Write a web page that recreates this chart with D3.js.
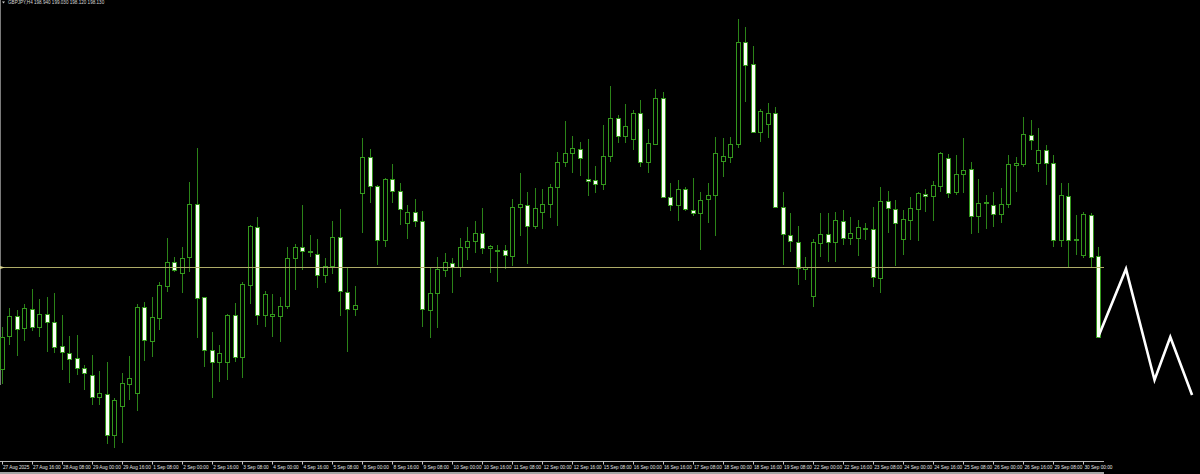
<!DOCTYPE html>
<html><head><meta charset="utf-8">
<script src="https://cdn.jsdelivr.net/npm/d3@7"></script>
<style>html,body{margin:0;padding:0;background:#000;overflow:hidden}</style>
</head><body><svg id="c" width="1200" height="474"></svg>
<script>
const symbol = "GBPJPY,H4";
const opens = [197.81,198.14,198.34,198.22,198.41,198.23,198.36,198.28,198.04,197.97,
197.92,197.82,197.75,197.53,197.56,197.15,197.44,197.66,197.57,198.43,
198.09,198.32,198.64,198.88,198.77,198.93,199.46,198.53,198.00,197.88,
197.88,198.35,197.93,198.65,199.23,198.35,198.34,198.34,198.44,198.92,
199.03,198.99,198.96,198.75,198.84,199.13,198.58,198.41,199.57,199.93,
199.64,199.10,199.71,199.59,199.27,199.38,199.29,198.40,198.57,198.80,
198.87,198.83,199.03,199.09,199.17,199.02,199.00,199.00,198.94,199.43,
199.45,199.24,199.38,199.46,199.63,199.88,199.97,200.01,199.71,199.70,
199.66,199.94,200.32,200.14,200.11,200.37,199.88,200.06,200.52,199.53,
199.45,199.61,199.40,199.37,199.51,199.55,199.89,199.93,200.06,201.08,
200.86,200.18,200.26,200.37,199.43,199.15,199.08,198.81,198.54,199.07,
199.16,199.08,199.29,199.12,199.12,199.22,199.21,198.72,199.49,199.41,
199.11,199.30,199.41,199.56,199.54,199.64,199.92,199.58,199.76,199.81,
199.34,199.47,199.45,199.36,199.46,199.85,199.86,200.15,199.87,200.00,
199.87,199.10,199.54,199.10,198.95,199.35,198.94];
const highs = [198.23,198.42,198.40,198.46,198.61,198.51,198.53,198.57,198.35,198.14,
198.15,197.85,197.95,197.79,197.88,197.52,197.77,197.94,198.46,198.48,
198.53,198.68,199.12,198.93,199.03,199.68,200.02,198.53,198.18,198.05,
198.36,198.47,198.68,199.25,199.33,198.59,198.56,198.53,199.03,199.06,
199.45,199.15,199.11,198.92,199.29,199.41,198.82,198.64,200.12,200.01,
199.65,199.72,199.86,199.67,199.45,199.51,199.39,198.82,198.93,198.97,
198.92,199.12,199.23,199.29,199.42,199.05,199.05,199.05,199.51,199.77,
199.58,199.62,199.61,199.66,199.98,200.29,200.14,200.08,200.11,199.84,
200.25,200.64,200.35,200.46,200.40,200.50,200.21,200.61,200.58,199.67,
199.70,199.63,199.72,199.58,199.67,200.13,200.12,200.13,201.31,201.23,
201.04,200.41,200.47,200.43,199.58,199.37,199.24,198.93,199.11,199.37,
199.37,199.38,199.40,199.33,199.30,199.27,199.43,199.63,199.59,199.50,
199.40,199.53,199.58,199.61,199.69,199.98,199.96,199.95,200.12,199.88,
199.71,199.55,199.58,199.62,199.95,199.93,200.33,200.30,200.22,200.05,
199.95,199.67,199.67,199.35,199.38,199.37,199.03];
const lows = [197.66,198.05,197.94,198.09,198.19,198.13,197.98,197.97,197.80,197.67,
197.75,197.60,197.45,197.45,197.06,197.02,197.07,197.50,197.39,197.89,
197.93,198.20,198.58,198.78,198.57,198.78,198.12,197.83,197.52,197.68,
197.70,197.88,197.72,198.46,198.25,198.23,198.13,198.08,198.41,198.60,
198.80,198.93,198.62,198.67,198.76,198.34,197.98,198.34,199.17,199.47,
198.85,199.03,199.47,199.25,199.11,199.23,198.23,198.12,198.22,198.73,
198.57,198.73,198.90,198.97,198.96,198.77,198.68,198.81,198.84,199.14,
198.86,199.21,199.21,199.32,199.24,199.83,199.77,199.74,199.54,199.57,
199.60,199.88,200.07,200.07,200.00,199.83,199.77,200.05,199.52,199.39,
199.29,199.39,199.34,199.00,199.27,199.14,199.73,199.87,200.02,200.48,
200.17,200.08,200.12,199.42,198.85,198.98,198.65,198.70,198.43,198.93,
198.88,198.88,199.05,199.05,198.94,199.10,198.63,198.57,199.17,198.84,
198.95,199.10,199.09,199.38,199.29,199.58,199.52,199.55,199.57,199.16,
199.17,199.21,199.23,199.27,199.42,199.58,199.83,200.00,199.78,199.65,
199.03,199.03,198.82,198.95,198.92,198.83,198.12];
const closes = [198.13,198.34,198.21,198.42,198.23,198.36,198.28,198.03,197.98,197.91,
197.82,197.77,197.53,197.57,197.15,197.50,197.67,197.72,198.43,198.10,
198.33,198.65,198.88,198.80,198.92,199.46,198.52,198.00,197.88,197.97,
198.35,197.93,198.66,199.24,198.35,198.56,198.36,198.44,198.92,199.03,
198.99,198.98,198.75,198.84,199.13,198.59,198.41,198.45,199.93,199.64,
199.10,199.71,199.59,199.41,199.38,199.29,198.41,198.57,198.81,198.88,
198.83,199.03,199.09,199.17,199.02,199.04,198.99,198.95,199.43,199.46,
199.24,199.42,199.46,199.63,199.88,199.97,200.02,199.92,199.69,199.66,
199.94,200.32,200.14,200.24,200.37,199.88,200.07,200.52,199.53,199.45,
199.61,199.41,199.37,199.50,199.55,199.97,199.94,200.06,201.08,200.85,
200.18,200.39,200.37,199.43,199.16,199.09,198.82,198.83,199.08,199.16,
199.08,199.30,199.12,199.17,199.23,199.21,198.73,199.49,199.42,199.27,
199.31,199.42,199.57,199.54,199.65,199.97,199.57,199.76,199.80,199.34,
199.47,199.48,199.36,199.46,199.86,199.87,200.16,200.10,200.00,199.87,
199.10,199.55,199.10,199.11,199.36,198.93,198.13];
const tickLabels = ["27 Aug 2025","27 Aug 16:00","28 Aug 08:00","29 Aug 00:00","29 Aug 16:00",
"1 Sep 08:00","2 Sep 00:00","2 Sep 16:00","3 Sep 08:00","4 Sep 00:00","4 Sep 16:00",
"5 Sep 08:00","8 Sep 00:00","8 Sep 16:00","9 Sep 08:00","10 Sep 00:00","10 Sep 16:00",
"11 Sep 08:00","12 Sep 00:00","12 Sep 16:00","15 Sep 08:00","16 Sep 00:00","16 Sep 16:00",
"17 Sep 08:00","18 Sep 00:00","18 Sep 16:00","19 Sep 08:00","22 Sep 00:00","22 Sep 16:00",
"23 Sep 08:00","24 Sep 00:00","24 Sep 16:00","25 Sep 08:00","26 Sep 00:00","26 Sep 16:00",
"29 Sep 08:00","30 Sep 00:00"];
const barsPerTick = 4;
const bidPrice = 198.83;
const forecastBars = [146, 149.7, 153.5, 155.6, 158.5];
const forecastPrices = [198.13, 198.81, 197.70, 198.13, 197.55];

const n = opens.length;
const svg = d3.select("#c");
const x = d3.scaleLinear().domain([0, n - 1]).range([1.7, 1098.2]);
const y = d3.scaleLinear().domain([201.50, 196.76]).range([0, 474]);
const chartRight = 1104, axisY = 461.5;
const wickGreen = "#2b8318";
const bodyGreen = "#34981d";
const px = v => Math.round(v) + 0.5;

// left border
svg.append("line").attr("x1",0.5).attr("x2",0.5).attr("y1",0).attr("y2",385)
  .attr("stroke","#7a7a7a").attr("stroke-width",1);

const bars = d3.range(n).map(i => ({i, o:opens[i], h:highs[i], l:lows[i], c:closes[i]}));
const g = svg.append("g");
g.selectAll("line.wick").data(bars).join("line").attr("class","wick")
  .attr("x1", d => px(x(d.i))).attr("x2", d => px(x(d.i)))
  .attr("y1", d => Math.round(y(d.h))).attr("y2", d => Math.round(y(d.l)))
  .attr("stroke", wickGreen).attr("stroke-width", 1);
g.selectAll("rect.body").data(bars).join("rect").attr("class","body")
  .attr("x", d => px(x(d.i)) - 2)
  .attr("width", 4)
  .attr("y", d => px(y(Math.max(d.o, d.c))))
  .attr("height", d => Math.max(1, Math.round(y(Math.min(d.o, d.c))) - Math.round(y(Math.max(d.o, d.c)))))
  .attr("fill", d => d.c >= d.o ? "#000" : "#fbfff6")
  .attr("stroke", bodyGreen).attr("stroke-width", 1);

// bid line
svg.append("line").attr("x1",0).attr("x2",chartRight)
  .attr("y1", px(y(bidPrice))).attr("y2", px(y(bidPrice)))
  .attr("stroke","#aeac68").attr("stroke-width",1);
svg.append("path")
  .attr("d", `M0,${px(y(bidPrice))-1.5} L5,${px(y(bidPrice))} L0,${px(y(bidPrice))+1.5} Z`)
  .attr("fill","#d8d490");

// forecast zigzag
svg.append("path")
  .datum(forecastBars.map((b, k) => [x(b), y(forecastPrices[k])]))
  .attr("d", d3.line())
  .attr("fill","none").attr("stroke","#fff").attr("stroke-width",2.6)
  .attr("stroke-linejoin","miter");

// title
const last = bars[n - 1];
svg.append("path").attr("d","M2,1.5 L5,1.5 L3.5,3.5 Z").attr("fill","#ccc");
svg.append("text").attr("x",8).attr("y",4.3)
  .attr("font-family","Liberation Sans, Arial, sans-serif").attr("font-size",4.6)
  .attr("fill","#d8d8d8")
  .text(`${symbol}  ${last.o.toFixed(3)} ${last.h.toFixed(3)} ${last.l.toFixed(3)} ${last.c.toFixed(3)}`);

// time axis
svg.append("line").attr("x1",0).attr("x2",chartRight).attr("y1",axisY).attr("y2",axisY)
  .attr("stroke","#b8b8b8").attr("stroke-width",1);
const ticks = tickLabels.map((t, k) => ({t, b: k * barsPerTick}));
const ax = svg.append("g");
ax.selectAll("line").data(ticks).join("line")
  .attr("x1", d => px(x(d.b))).attr("x2", d => px(x(d.b)))
  .attr("y1", axisY).attr("y2", axisY + 3)
  .attr("stroke","#c8c8c8").attr("stroke-width",1);
ax.selectAll("text").data(ticks).join("text")
  .attr("x", d => x(d.b) + 1.3).attr("y", 468.6)
  .attr("font-family","Liberation Sans, Arial, sans-serif").attr("font-size",4.7)
  .attr("fill","#e4e4e4")
  .text(d => d.t);
svg.append("rect").attr("x",0).attr("y",472).attr("width",chartRight).attr("height",2)
  .attr("fill","#a4a4a4");
</script></body></html>
